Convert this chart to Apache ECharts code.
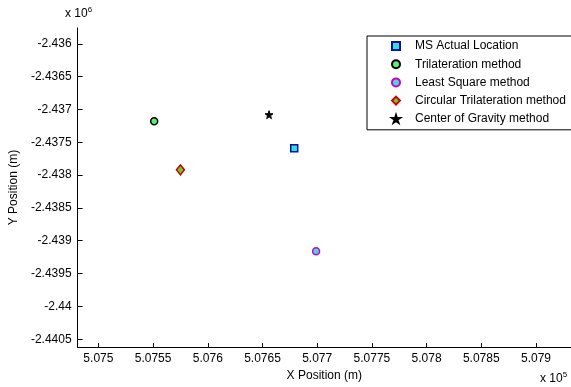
<!DOCTYPE html>
<html><head><meta charset="utf-8">
<script src="https://cdn.jsdelivr.net/npm/echarts@6/dist/echarts.min.js"></script>
<style>html,body{margin:0;padding:0;background:#fff}#c{width:571px;height:387px}</style>
</head><body><div id="c"></div>
<script>
const seriesNames = ['MS Actual Location', 'Trilateration method', 'Least Square method', 'Circular Trilateration method', 'Center of Gravity method'];
const msActual = [[5.07679, -2.43759]];
const trilateration = [[5.07551, -2.43718]];
const leastSquare = [[5.07699, -2.43916]];
const circularTrilateration = [[5.07575, -2.43792]];
const centerOfGravity = [[5.07656, -2.43708]];
const xTicks = [5.075, 5.0755, 5.076, 5.0765, 5.077, 5.0775, 5.078, 5.0785, 5.079];
const yTicks = [-2.436, -2.4365, -2.437, -2.4375, -2.438, -2.4385, -2.439, -2.4395, -2.44, -2.4405];
const xRange = [5.07481, 5.07932];
const yRange = [-2.44062, -2.43576];

const FONT = 'Liberation Sans';
const fmt = v => String(+(+v).toFixed(4));
const star = 'path://M50,0 L61,35 L98,35 L68,57 L79,91 L50,70 L21,91 L32,57 L2,35 L39,35 Z';
const icons = ['rect', 'circle', 'circle', 'diamond', star];

const chart = echarts.init(document.getElementById('c'), null, {renderer: 'canvas'});
chart.setOption({
  animation: false,
  backgroundColor: '#fff',
  textStyle: {fontFamily: FONT},
  grid: {left: 73, top: 28, right: 0, bottom: 39, containLabel: false},
  xAxis: {
    type: 'value', min: xRange[0], max: xRange[1],
    name: 'X Position (m)', nameLocation: 'middle', nameGap: 20,
    nameTextStyle: {color: '#000', fontSize: 12, fontFamily: FONT},
    axisLine: {show: true, onZero: false, lineStyle: {color: '#000', width: 1}},
    axisTick: {show: true, inside: true, length: 4, customValues: xTicks, lineStyle: {color: '#000'}},
    axisLabel: {customValues: xTicks, formatter: fmt, color: '#000', fontSize: 12, margin: 6, fontFamily: FONT},
    splitLine: {show: false}
  },
  yAxis: {
    type: 'value', min: yRange[0], max: yRange[1],
    name: 'Y Position (m)', nameLocation: 'middle', nameGap: 56,
    nameTextStyle: {color: '#000', fontSize: 12, fontFamily: FONT},
    axisLine: {show: true, onZero: false, lineStyle: {color: '#000', width: 1}},
    axisTick: {show: true, inside: true, length: 5, customValues: yTicks, lineStyle: {color: '#000'}},
    axisLabel: {customValues: yTicks, formatter: fmt, color: '#000', fontSize: 12, margin: 6, fontFamily: FONT},
    splitLine: {show: false}
  },
  legend: {
    orient: 'vertical', left: 367, top: 36,
    padding: [3, 200, 4, 24],
    itemWidth: 8, itemHeight: 8, itemGap: 4.2,
    borderColor: '#000', borderWidth: 1, backgroundColor: '#fff',
    textStyle: {color: '#000', fontSize: 12, fontFamily: FONT, padding: [0, 0, 0, 10], lineHeight: 14},
    data: seriesNames.map((n, i) => ({name: n, icon: icons[i]}))
  },
  graphic: [
    {type: 'text', left: 65, top: 6, style: {
      text: '{a|x 10}{s|6}', rich: {a: {fontSize: 12, fontFamily: FONT, fill: '#000'}, s: {fontSize: 8, fontFamily: FONT, fill: '#000', verticalAlign: 'top', padding: [0,0,8,0]}}}},
    {type: 'text', left: 540, top: 371, style: {
      text: '{a|x 10}{s|5}', rich: {a: {fontSize: 12, fontFamily: FONT, fill: '#000'}, s: {fontSize: 8, fontFamily: FONT, fill: '#000', padding: [0,0,8,0]}}}}
  ],
  series: [
    {name: seriesNames[0], type: 'scatter', data: msActual, symbol: 'rect', symbolSize: 7,
      itemStyle: {color: '#33e0c8', borderColor: '#0010b0', borderWidth: 1.5, opacity: 1}},
    {name: seriesNames[1], type: 'scatter', data: trilateration, symbol: 'circle', symbolSize: 7,
      itemStyle: {color: '#55ee77', borderColor: '#000', borderWidth: 1.5, opacity: 1}},
    {name: seriesNames[2], type: 'scatter', data: leastSquare, symbol: 'circle', symbolSize: 7,
      itemStyle: {color: '#44ddcc', borderColor: '#cc00cc', borderWidth: 1.5, opacity: 1}},
    {name: seriesNames[3], type: 'scatter', data: circularTrilateration, symbol: 'diamond', symbolSize: [8, 10],
      itemStyle: {color: '#66cc33', borderColor: '#cc0000', borderWidth: 1.5, opacity: 1}},
    {name: seriesNames[4], type: 'scatter', data: centerOfGravity, symbol: star, symbolSize: 8,
      itemStyle: {color: '#000', borderColor: '#000', borderWidth: 1, opacity: 1}}
  ]
});
</script></body></html>
